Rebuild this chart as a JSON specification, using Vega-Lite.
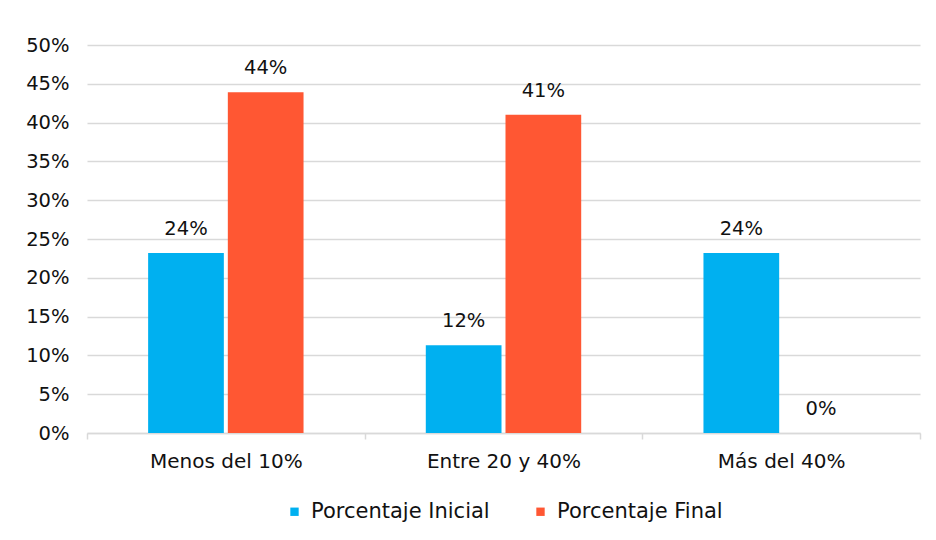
{
  "$schema": "https://vega.github.io/schema/vega-lite/v6.json",
  "autosize": "none",
  "width": 833,
  "height": 388,
  "padding": {"left": 87, "top": 45, "right": 16, "bottom": 107},
  "background": "white",
  "config": {
    "font": "DejaVu Sans",
    "view": {"stroke": null},
    "text": {"font": "DejaVu Sans"},
    "legend": {"layout": {"bottom": {"anchor": "middle"}}}
  },
  "data": {
    "values": [
      {"categoria": "Menos del 10%", "serie": "Porcentaje Inicial", "valor": 0.232, "etiqueta": "24%"},
      {"categoria": "Menos del 10%", "serie": "Porcentaje Final", "valor": 0.439, "etiqueta": "44%"},
      {"categoria": "Entre 20 y 40%", "serie": "Porcentaje Inicial", "valor": 0.113, "etiqueta": "12%"},
      {"categoria": "Entre 20 y 40%", "serie": "Porcentaje Final", "valor": 0.41, "etiqueta": "41%"},
      {"categoria": "Más del 40%", "serie": "Porcentaje Inicial", "valor": 0.232, "etiqueta": "24%"},
      {"categoria": "Más del 40%", "serie": "Porcentaje Final", "valor": 0.0, "etiqueta": "0%"}
    ]
  },
  "encoding": {
    "x": {
      "field": "categoria", "type": "nominal", "sort": null,
      "scale": {"paddingInner": 0, "paddingOuter": 0},
      "axis": {
        "title": null, "labelAngle": 0, "labelFontSize": 20, "labelColor": "#111111",
        "labelPadding": 12, "tickBand": "extent", "tickSize": 6, "tickColor": "#d9d9d9",
        "tickWidth": 1.5, "domainColor": "#d9d9d9", "domainWidth": 1.5, "grid": false
      }
    },
    "xOffset": {
      "field": "serie", "type": "nominal", "sort": ["Porcentaje Inicial", "Porcentaje Final"],
      "scale": {"paddingInner": 0.05, "paddingOuter": 0.767}
    },
    "y": {
      "field": "valor", "type": "quantitative",
      "scale": {"domain": [0, 0.5], "nice": false},
      "axis": {
        "title": null, "format": ".0%", "values": [0, 0.05, 0.1, 0.15, 0.2, 0.25, 0.3, 0.35, 0.4, 0.45, 0.5],
        "labelFontSize": 19.5, "labelColor": "#111111", "labelPadding": 18,
        "ticks": false, "domain": false, "gridColor": "#d9d9d9", "gridWidth": 1.5
      }
    }
  },
  "layer": [
    {
      "mark": {"type": "bar"},
      "encoding": {
        "color": {
          "field": "serie", "type": "nominal", "sort": ["Porcentaje Inicial", "Porcentaje Final"],
          "scale": {"domain": ["Porcentaje Inicial", "Porcentaje Final"], "range": ["#00B0F0", "#FF5733"]},
          "legend": {
            "title": null, "orient": "bottom", "direction": "horizontal",
            "symbolType": "square", "symbolSize": 70, "symbolStrokeWidth": 0,
            "labelFontSize": 21, "labelColor": "#111111", "columnPadding": 40,
            "labelOffset": 6, "offset": 30, "labelLimit": 400
          }
        }
      }
    },
    {
      "mark": {"type": "text", "baseline": "bottom", "dy": -14, "fontSize": 19.5, "color": "#111111"},
      "encoding": {"text": {"field": "etiqueta"}}
    }
  ]
}
